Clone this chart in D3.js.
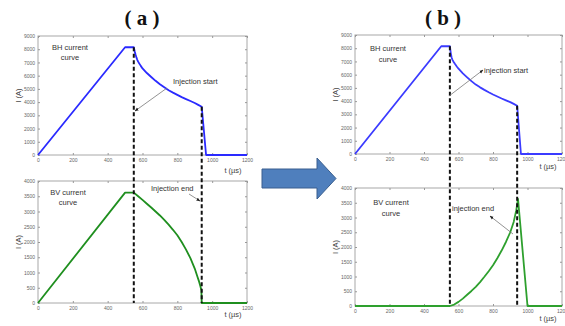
<!DOCTYPE html>
<html>
<head>
<meta charset="utf-8">
<script src="https://cdn.jsdelivr.net/npm/d3@7"></script>
<style>
  body { margin: 0; background: #fff; }
  svg { display: block; font-family: "Liberation Sans", Arial, sans-serif; }
</style>
</head>
<body>
<script>
// time ticks (µs) and current ticks (A)
var tTicks = [0, 200, 400, 600, 800, 1000, 1200];
var bhTicks = [0, 1000, 2000, 3000, 4000, 5000, 6000, 7000, 8000, 9000];
var bvTicks = [0, 500, 1000, 1500, 2000, 2500, 3000, 3500, 4000];

// injection start / end times
var injStart = 550;
var injEnd = 940;

// case (a) BH current curve
var bhA_t = [0, 500, 550, 555, 560, 565, 570, 575, 580, 590, 600, 625, 650, 675, 700, 725, 750, 775, 800, 825, 850, 875, 900, 920, 940, 965, 1200];
var bhA_i = [0, 8150, 8150, 7850, 7600, 7380, 7200, 7060, 6950, 6740, 6550, 6200, 5900, 5610, 5350, 5120, 4900, 4720, 4550, 4380, 4230, 4080, 3930, 3790, 3650, 0, 0];

// case (a) BV current curve
var bvA_t = [0, 500, 550, 575, 600, 625, 650, 675, 700, 725, 750, 775, 800, 825, 850, 875, 900, 915, 925, 932, 938, 940, 1200];
var bvA_i = [0, 3620, 3620, 3500, 3380, 3255, 3130, 3000, 2870, 2725, 2570, 2400, 2220, 2000, 1750, 1470, 1130, 870, 700, 560, 420, 0, 0];

// case (b) BH current curve
var bhB_t = [0, 500, 550, 555, 560, 565, 570, 575, 580, 590, 600, 625, 650, 675, 700, 725, 750, 775, 800, 825, 850, 875, 900, 920, 940, 962, 1200];
var bhB_i = [0, 8150, 8150, 7650, 7300, 7120, 7000, 6900, 6800, 6620, 6450, 6100, 5800, 5510, 5250, 5040, 4850, 4670, 4500, 4350, 4200, 4060, 3920, 3790, 3650, 0, 0];

// case (b) BV current curve
var bvB_t = [0, 550, 575, 600, 625, 650, 675, 700, 725, 750, 775, 800, 825, 850, 875, 900, 920, 935, 945, 1000, 1200];
var bvB_i = [0, 0, 50, 140, 250, 380, 510, 650, 810, 990, 1180, 1380, 1620, 1880, 2170, 2500, 2850, 3250, 3630, 0, 0];

var svg = d3.select("body").append("svg")
  .attr("width", 565)
  .attr("height", 326);

svg.append("defs").append("marker")
  .attr("id", "ahead")
  .attr("viewBox", "0 0 10 10")
  .attr("refX", 9).attr("refY", 5)
  .attr("markerWidth", 5).attr("markerHeight", 5)
  .attr("orient", "auto")
  .append("path")
  .attr("d", "M0,1 L10,5 L0,9 z")
  .attr("fill", "#222");

function zip(t, v) {
  return t.map((d, i) => ({ t: d, v: v[i] }));
}

// draws one matlab-like panel, returns its scales
function panel(box, yTicks, yMax, data, color, xlabelY) {
  var x = d3.scaleLinear().domain([0, 1200]).range([box.x0, box.x1]);
  var y = d3.scaleLinear().domain([0, yMax]).range([box.y0, box.y1]);
  var g = svg.append("g");

  g.append("rect")
    .attr("x", box.x0).attr("y", box.y1)
    .attr("width", box.x1 - box.x0).attr("height", box.y0 - box.y1)
    .attr("fill", "none")
    .attr("stroke", "#a8a8a8")
    .attr("stroke-width", 1);

  // ticks inside on all sides
  var xa = g.append("g").attr("transform", `translate(0,${box.y0})`)
    .call(d3.axisBottom(x).tickValues(tTicks).tickSize(-2).tickPadding(3).tickFormat(d3.format("d")));
  var xt = g.append("g").attr("transform", `translate(0,${box.y1})`)
    .call(d3.axisTop(x).tickValues(tTicks).tickSize(-2).tickFormat(""));
  var ya = g.append("g").attr("transform", `translate(${box.x0},0)`)
    .call(d3.axisLeft(y).tickValues(yTicks).tickSize(-2).tickPadding(3).tickFormat(d3.format("d")));
  var yr = g.append("g").attr("transform", `translate(${box.x1},0)`)
    .call(d3.axisRight(y).tickValues(yTicks).tickSize(-2).tickFormat(""));

  [xa, xt, ya, yr].forEach(function(a) {
    a.select(".domain").remove();
    a.selectAll("line").attr("stroke", "#999");
    a.selectAll("text").attr("fill", "#666").style("font-size", "5px");
  });

  g.append("path")
    .datum(data)
    .attr("fill", "none")
    .attr("stroke", color)
    .attr("stroke-width", 1.8)
    .attr("stroke-linejoin", "round")
    .attr("d", d3.line().x(d => x(d.t)).y(d => y(d.v)));

  // axis labels
  g.append("text")
    .attr("transform", `translate(${box.x0 - 17},${(box.y0 + box.y1) / 2}) rotate(-90)`)
    .attr("text-anchor", "middle")
    .attr("fill", "#444")
    .style("font-size", "7.5px")
    .text("I (A)");

  g.append("text")
    .attr("x", box.x1 - 14).attr("y", xlabelY)
    .attr("text-anchor", "middle")
    .attr("fill", "#444")
    .style("font-size", "7.5px")
    .text("t (µs)");

  return { x: x, y: y };
}

function label(lines, cx, y0, dy) {
  var t = svg.append("text")
    .attr("text-anchor", "middle")
    .attr("fill", "#333")
    .style("font-size", "7.5px");
  lines.forEach(function(s, i) {
    t.append("tspan").attr("x", cx).attr("y", y0 + i * dy).text(s);
  });
}

function note(text, tx, ty, x1, y1, x2, y2) {
  svg.append("text")
    .attr("x", tx).attr("y", ty)
    .attr("fill", "#333")
    .style("font-size", "7.5px")
    .text(text);
  svg.append("line")
    .attr("x1", x1).attr("y1", y1).attr("x2", x2).attr("y2", y2)
    .attr("stroke", "#777")
    .attr("stroke-width", 0.8)
    .attr("marker-end", "url(#ahead)");
}

function injLines(top, yBottom, bhT, bhI) {
  [injStart, injEnd].forEach(function(tt) {
    var i = bhT.indexOf(tt);
    svg.append("line")
      .attr("x1", top.x(tt)).attr("x2", top.x(tt))
      .attr("y1", top.y(bhI[i]))
      .attr("y2", yBottom)
      .attr("stroke", "#111")
      .attr("stroke-width", 2)
      .attr("stroke-dasharray", "4,2.5");
  });
}

// ---- case (a)
var aTop = panel({ x0: 38, x1: 247, y0: 155, y1: 36 }, bhTicks, 9000, zip(bhA_t, bhA_i), "#2a2aff", 173);
var aBot = panel({ x0: 38, x1: 247, y0: 303, y1: 181 }, bvTicks, 4000, zip(bvA_t, bvA_i), "#1f8f1f", 317);
injLines(aTop, 303, bhA_t, bhA_i);

// ---- case (b)
var bTop = panel({ x0: 355, x1: 562, y0: 154, y1: 35 }, bhTicks, 9000, zip(bhB_t, bhB_i), "#3b3bff", 169);
var bBot = panel({ x0: 355, x1: 562, y0: 306, y1: 188 }, bvTicks, 4000, zip(bvB_t, bvB_i), "#2ea02e", 321);
injLines(bTop, 306, bhB_t, bhB_i);

// titles
svg.selectAll(".title")
  .data([["( a )", 142], ["( b )", 443]])
  .enter().append("text")
  .attr("x", d => d[1]).attr("y", 25)
  .attr("text-anchor", "middle")
  .style("font-family", "'Liberation Serif', 'Times New Roman', serif")
  .style("font-weight", "bold")
  .style("font-size", "21px")
  .attr("fill", "#111")
  .text(d => d[0]);

// curve names
label(["BH current", "curve"], 70, 50, 9.5);
label(["BV current", "curve"], 68, 195, 10);
label(["BH current", "curve"], 388, 51, 11);
label(["BV current", "curve"], 391, 205, 11);

// annotations
note("Injection start", 173, 84, 167, 88, 135, 111);
note("Injection end", 151, 191, 189, 194, 200, 201);
note("injection start", 484, 73, 449, 96, 483, 70);
note("injection end", 452, 211, 513, 234, 490, 216);

// big arrow between cases
svg.append("path")
  .attr("d", "M262,169 L317,169 L317,158 L336,178.5 L317,199 L317,188 L262,188 Z")
  .attr("fill", "#4f7fbd")
  .attr("stroke", "#3a5f8f")
  .attr("stroke-width", 1);
</script>
</body>
</html>
